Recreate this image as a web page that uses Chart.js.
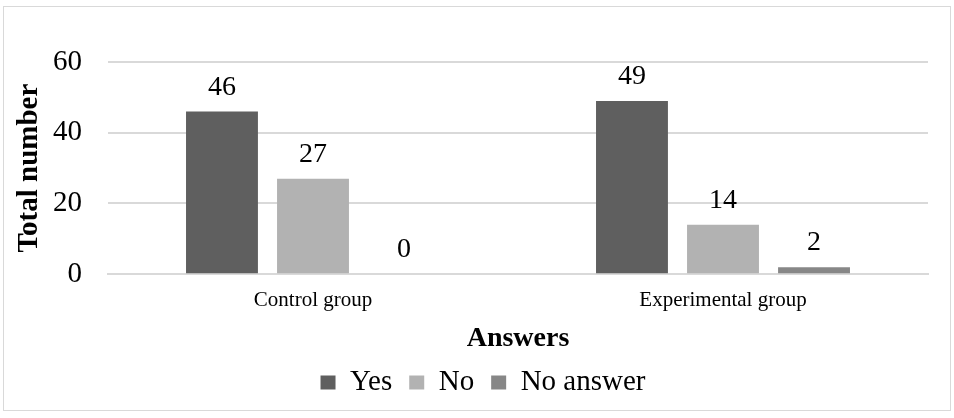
<!DOCTYPE html>
<html>
<head>
<meta charset="utf-8">
<script src="https://cdn.jsdelivr.net/npm/chart.js@4.4.0/dist/chart.umd.min.js"></script>
<style>
  body { margin: 0; background: #fff; }
  #box { position: absolute; left: 3px; top: 6px; width: 946px; height: 403px; border: 1px solid #d9d9d9; }
  canvas { display: block; }
</style>
</head>
<body>
<div id="box"><canvas id="chart" width="946" height="403"></canvas></div>
<script>
const categories = ['Control group', 'Experimental group'];
const yesValues = [46, 49];
const noValues = [27, 14];
const noAnswerValues = [0, 2];
const yTicks = [0, 20, 40, 60];

const serif = '"Liberation Serif", "Times New Roman", serif';

// numbers drawn above each bar
const barLabels = {
    id: 'barLabels',
    afterDatasetsDraw(chart) {
        const ctx = chart.ctx;
        ctx.save();
        ctx.font = '28px ' + serif;
        ctx.fillStyle = '#000';
        ctx.textAlign = 'center';
        ctx.textBaseline = 'alphabetic';
        chart.data.datasets.forEach((ds, i) => {
            chart.getDatasetMeta(i).data.forEach((bar, j) => {
                ctx.fillText(ds.data[j], bar.x, bar.y - 17);
            });
        });
        ctx.restore();
    }
};

// legend sits a little right of centre in the original
const nudgeLegend = {
    id: 'nudgeLegend',
    afterLayout(chart) {
        chart.legend.left += 13;
        chart.legend.right += 13;
    }
};

new Chart(document.getElementById('chart'), {
    type: 'bar',
    data: {
        labels: categories,
        datasets: [
            { label: 'Yes', data: yesValues, backgroundColor: '#5f5f5f' },
            { label: 'No', data: noValues, backgroundColor: '#b2b2b2' },
            { label: 'No answer', data: noAnswerValues, backgroundColor: '#878787' }
        ]
    },
    options: {
        responsive: false,
        animation: false,
        categoryPercentage: 0.666,
        barPercentage: 0.79,
        layout: { padding: { left: 8, right: 22, top: 55, bottom: 3 } },
        plugins: {
            legend: {
                position: 'bottom',
                labels: {
                    font: { family: serif, size: 29 },
                    color: '#000',
                    boxWidth: 15,
                    boxHeight: 14,
                    padding: 17
                }
            },
            tooltip: { enabled: false }
        },
        scales: {
            x: {
                grid: { display: false },
                border: { color: '#d9d9d9', width: 2 },
                ticks: { font: { family: serif, size: 21 }, color: '#000', padding: 6 },
                title: {
                    display: true,
                    text: 'Answers',
                    font: { family: serif, size: 28, weight: 'bold' },
                    color: '#000',
                    padding: { top: 3, bottom: -5 }
                }
            },
            y: {
                min: 0,
                max: 60,
                afterBuildTicks: axis => { axis.ticks = yTicks.map(v => ({ value: v })); },
                afterFit: axis => { axis.width = 96; },
                grid: { color: '#d9d9d9', lineWidth: 2, drawTicks: false },
                border: { display: false },
                ticks: { font: { family: serif, size: 29 }, color: '#000', padding: 26 },
                title: {
                    display: true,
                    text: 'Total number',
                    font: { family: serif, size: 29, weight: 'bold' },
                    color: '#000',
                    padding: 0
                }
            }
        }
    },
    plugins: [barLabels, nudgeLegend]
});
</script>
</body>
</html>
